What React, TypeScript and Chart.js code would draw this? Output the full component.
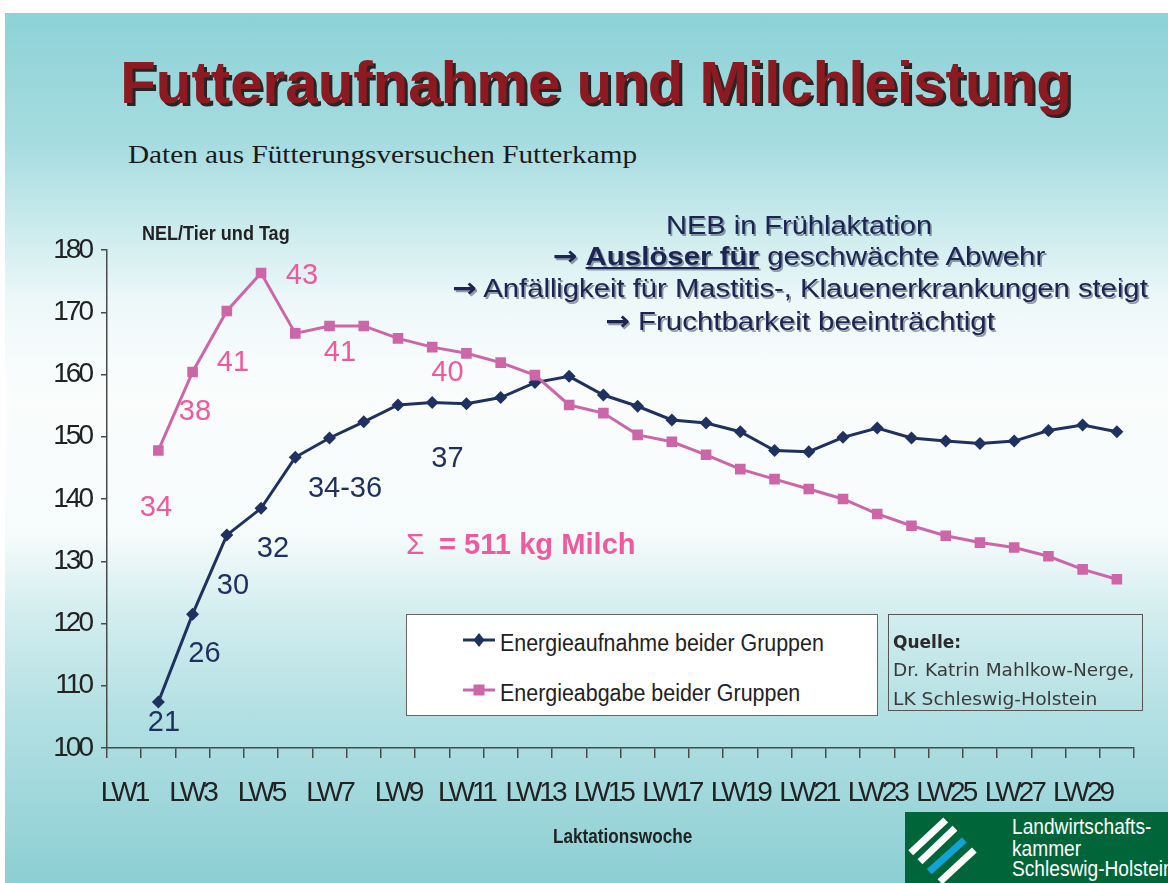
import React, { useEffect, useLayoutEffect, useRef, useState } from 'react';
import { Chart, registerables } from 'chart.js';

Chart.register(...registerables);

// ---------- data ----------
const weeks = [
  'LW1', 'LW2', 'LW3', 'LW4', 'LW5', 'LW6', 'LW7', 'LW8', 'LW9', 'LW10',
  'LW11', 'LW12', 'LW13', 'LW14', 'LW15', 'LW16', 'LW17', 'LW18', 'LW19', 'LW20',
  'LW21', 'LW22', 'LW23', 'LW24', 'LW25', 'LW26', 'LW27', 'LW28', 'LW29', 'LW30',
];

const energyIntake = [
  null, 107.4, 121.5, 134.2, 138.5, 146.7, 149.8, 152.4, 155.1, 155.5,
  155.3, 156.3, 158.7, 159.7, 156.7, 154.9, 152.7, 152.2, 150.8, 147.8,
  147.6, 149.9, 151.4, 149.8, 149.3, 148.9, 149.3, 151.0, 151.9, 150.8,
];

const energyOutput = [
  null, 147.8, 160.4, 170.2, 176.3, 166.6, 167.8, 167.8, 165.8, 164.4,
  163.4, 161.9, 159.9, 155.1, 153.8, 150.3, 149.2, 147.1, 144.8, 143.2,
  141.6, 140.0, 137.6, 135.7, 134.1, 133.0, 132.2, 130.8, 128.7, 127.1,
];

const yMin = 100;
const yMax = 180;
const yStep = 10;

const seriesNames = ['Energieaufnahme beider Gruppen', 'Energieabgabe beider Gruppen'];
const milkOutputLabels = ['34', '38', '41', '43', '41', '40'];
const milkIntakeLabels = ['21', '26', '30', '32', '34-36', '37'];

// ---------- styles / layout ----------
const SANS = '"Liberation Sans", Arial, Helvetica, sans-serif';
const SERIF = '"Liberation Serif", "Times New Roman", serif';
const DEJAVU = '"DejaVu Sans", Verdana, sans-serif';
const NAVY = '#1f3160';
const PINK = '#cc66a9';
const NAVY_TXT = '#1f2f5f';
const PINK_TXT = '#ef5a9e';
const AXIS = '#4a4a4a';

const outputLabelPos = [
  [156, 506.5], [195, 410], [233, 361], [302, 274.5], [340, 351], [447.5, 371],
];
const intakeLabelPos = [
  [164, 721.5], [204.5, 652], [233, 584], [273, 547], [345, 487.5], [447.5, 457.5],
];

type TxtProps = {
  x: number; y: number; fs: number; w?: number; sx?: number;
  align?: 'left' | 'center'; family?: string; weight?: number | string;
  color?: string; style?: React.CSSProperties; children: React.ReactNode;
};

function Txt({ x, y, fs, w, sx = 1, align = 'left', family = SANS, weight = 400, color = '#222', style, children }: TxtProps) {
  const ref = useRef<HTMLDivElement>(null);
  const [s, setS] = useState(sx);
  useLayoutEffect(() => {
    if (w && ref.current) {
      const nat = ref.current.offsetWidth;
      if (nat > 0) setS(w / nat);
    }
  }, [w]);
  const transform = align === 'center' ? `translateX(-50%) scaleX(${s})` : `scaleX(${s})`;
  return (
    <div
      ref={ref}
      style={{
        position: 'absolute', left: x, top: y - fs / 2, fontSize: fs, lineHeight: `${fs}px`,
        fontFamily: family, fontWeight: weight as any, color, whiteSpace: 'nowrap',
        transform, transformOrigin: align === 'center' ? '50% 50%' : '0 50%', ...style,
      }}
    >
      {children}
    </div>
  );
}

const spacingPlugin = {
  id: 'tickLetterSpacing',
  beforeDraw(chart: any) { (chart.ctx as any).letterSpacing = '-3px'; },
  afterDraw(chart: any) { (chart.ctx as any).letterSpacing = '0px'; },
};

function LineChart() {
  const ref = useRef<HTMLCanvasElement>(null);
  useEffect(() => {
    if (!ref.current) return;
    const chart = new Chart(ref.current, {
      type: 'line',
      data: {
        labels: weeks,
        datasets: [
          {
            label: seriesNames[1], data: energyOutput as any, borderColor: PINK, backgroundColor: PINK,
            borderWidth: 3, pointStyle: 'rect', pointRadius: 7.5, pointBorderWidth: 0, order: 0, tension: 0,
          },
          {
            label: seriesNames[0], data: energyIntake as any, borderColor: NAVY, backgroundColor: NAVY,
            borderWidth: 3, pointStyle: 'rectRot', pointRadius: 6.5, pointBorderWidth: 0, order: 1, tension: 0,
          },
        ],
      },
      options: {
        animation: false,
        responsive: false,
        maintainAspectRatio: false,
        events: [],
        layout: { padding: { left: 0, right: 34, top: 250, bottom: 0 } },
        plugins: { legend: { display: false }, tooltip: { enabled: false } },
        scales: {
          x: {
            type: 'category',
            offset: true,
            grid: { offset: true, drawOnChartArea: false, drawTicks: true, tickLength: 10, color: AXIS, lineWidth: 1.5 },
            border: { color: AXIS, width: 1.5 },
            ticks: {
              autoSkip: false, maxRotation: 0, minRotation: 0, padding: 18, color: '#222',
              font: { family: SANS, size: 28 },
              callback: (_v: any, i: number) => (i % 2 === 0 ? weeks[i] : ''),
            },
            afterFit: (s: any) => { s.height = 883 - 748; },
          },
          y: {
            min: yMin, max: yMax,
            ticks: { stepSize: yStep, padding: 10, color: '#222', font: { family: SANS, size: 28 } },
            grid: { drawOnChartArea: false, drawTicks: true, tickLength: 6, color: AXIS, lineWidth: 1.5 },
            border: { color: AXIS, width: 1.5 },
            afterFit: (s: any) => { s.width = 107; },
          },
        },
      },
      plugins: [spacingPlugin],
    } as any);
    return () => chart.destroy();
  }, []);
  return <canvas ref={ref} width={1168} height={883} style={{ position: 'absolute', left: 0, top: 0, width: 1168, height: 883 }} />;
}

function Marker({ kind, x, y }: { kind: 'diamond' | 'square'; x: number; y: number }) {
  const c = kind === 'diamond' ? NAVY : PINK;
  return (
    <svg style={{ position: 'absolute', left: x, top: y - 8 }} width={32} height={16}>
      <line x1={0} y1={8} x2={32} y2={8} stroke={c} strokeWidth={3} />
      {kind === 'diamond'
        ? <polygon points="16,1 21.5,8 16,15 10.5,8" fill={c} />
        : <rect x={10.5} y={2.5} width={11} height={11} fill={c} />}
    </svg>
  );
}

function Arrow() {
  return <span style={{ fontFamily: DEJAVU, fontWeight: 700 }}>→</span>;
}

export default function App() {
  const nebShadow = '1.5px 1.5px 0 rgba(40,40,70,0.45)';
  return (
    <div style={{ position: 'absolute', left: 0, top: 0, width: 1168, height: 883, overflow: 'hidden', background: '#fff' }}>
      <div
        style={{
          position: 'absolute', left: 5, top: 13, right: 0, bottom: 0,
          background: 'linear-gradient(180deg, #8cd2d7 0px, #a6dce0 130px, #c9eaec 210px, #eef8f9 290px, #fbfdfd 380px, #f6fbfb 520px, #d3edef 600px, #b3e0e3 700px, #8ccfd4 870px)',
        }}
      />

      <Txt x={596} y={83} fs={58.5} w={952} align="center" weight={700} color="#8c1a20" style={{ textShadow: '3px 3px 0 #262626' }}>
        Futteraufnahme und Milchleistung
      </Txt>
      <Txt x={128} y={155} fs={25.5} w={509} family={SERIF} color="#1a1a1a">
        Daten aus Fütterungsversuchen Futterkamp
      </Txt>

      <LineChart />

      <Txt x={142} y={234} fs={19.5} w={148} weight={700} color="#222">NEL/Tier und Tag</Txt>
      <Txt x={553} y={836.5} fs={20.5} w={139} weight={700} color="#222">Laktationswoche</Txt>

      <Txt x={799} y={225.5} fs={26.5} w={266} align="center" color="#1c2452" style={{ textShadow: nebShadow }}>
        NEB in Frühlaktation
      </Txt>
      <Txt x={799} y={256.5} fs={26.5} w={492} align="center" color="#1c2452" style={{ textShadow: nebShadow }}>
        <Arrow /> <span style={{ fontWeight: 700, textDecoration: 'underline' }}>Auslöser für</span> geschwächte Abwehr
      </Txt>
      <Txt x={800} y={288.5} fs={26.5} w={696} align="center" color="#1c2452" style={{ textShadow: nebShadow }}>
        <Arrow /> Anfälligkeit für Mastitis-, Klauenerkrankungen steigt
      </Txt>
      <Txt x={800} y={321} fs={26.5} w={390} align="center" color="#1c2452" style={{ textShadow: nebShadow }}>
        <Arrow /> Fruchtbarkeit beeinträchtigt
      </Txt>

      {milkOutputLabels.map((t, i) => (
        <Txt key={'o' + i} x={outputLabelPos[i][0]} y={outputLabelPos[i][1]} fs={29} align="center" color={PINK_TXT}>{t}</Txt>
      ))}
      {milkIntakeLabels.map((t, i) => (
        <Txt key={'n' + i} x={intakeLabelPos[i][0]} y={intakeLabelPos[i][1]} fs={29} align="center" color={NAVY_TXT}>{t}</Txt>
      ))}

      <Txt x={406} y={543.5} fs={30} color={PINK_TXT}>Σ</Txt>
      <Txt x={439} y={543.5} fs={30} w={197} weight={700} color={PINK_TXT}>= 511 kg Milch</Txt>

      {/* legend */}
      <div style={{ position: 'absolute', left: 406, top: 614, width: 472, height: 102, boxSizing: 'border-box', background: '#fff', border: '1.5px solid #666' }} />
      <Marker kind="diamond" x={463} y={640} />
      <Txt x={500} y={643.5} fs={23} w={324} color="#222">{seriesNames[0]}</Txt>
      <Marker kind="square" x={463} y={690} />
      <Txt x={500} y={693} fs={23} w={300} color="#222">{seriesNames[1]}</Txt>

      {/* source box */}
      <div style={{ position: 'absolute', left: 888, top: 614, width: 255, height: 97, boxSizing: 'border-box', border: '1.5px solid #555' }} />
      <Txt x={893} y={642.7} fs={17} w={68} family={DEJAVU} weight={700} color="#2a2a2a">Quelle:</Txt>
      <Txt x={893} y={670.7} fs={17.5} w={241} family={DEJAVU} color="#3a3a3a">Dr. Katrin Mahlkow-Nerge,</Txt>
      <Txt x={893} y={700} fs={17.5} w={204} family={DEJAVU} color="#3a3a3a">LK Schleswig-Holstein</Txt>

      {/* logo */}
      <div style={{ position: 'absolute', left: 905, top: 812, width: 263, height: 71, background: '#00663a' }} />
      <svg style={{ position: 'absolute', left: 0, top: 0 }} width={1168} height={883}>
        <line x1={945.7} y1={820} x2={910.7} y2={852.7} stroke="#fff" strokeWidth={7} />
        <line x1={955} y1={828.3} x2={920} y2={861.7} stroke="#fff" strokeWidth={7} />
        <line x1={964.3} y1={840} x2={929.3} y2={871.7} stroke="#12a3d6" strokeWidth={7} />
        <line x1={974.3} y1={850} x2={940} y2={881.7} stroke="#fff" strokeWidth={7} />
      </svg>
      <Txt x={1012} y={827} fs={22} sx={0.87} color="#fff">Landwirtschafts-</Txt>
      <Txt x={1012} y={849} fs={22} sx={0.87} color="#fff">kammer</Txt>
      <Txt x={1012} y={869} fs={22} sx={0.87} color="#fff">Schleswig-Holstein</Txt>
    </div>
  );
}
